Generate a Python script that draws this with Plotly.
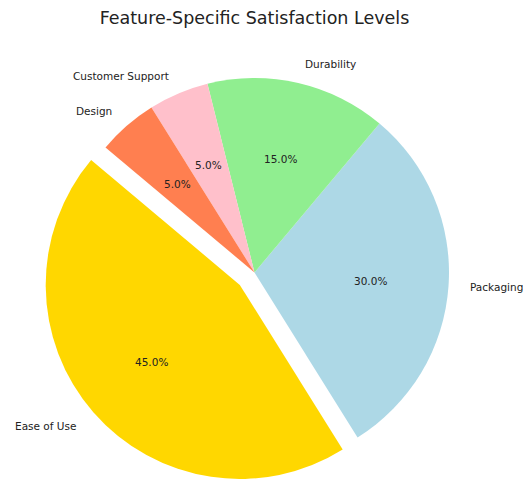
import math
import plotly.graph_objects as go

# Satisfaction share by feature
features = ["Ease of Use", "Packaging", "Durability", "Customer Support", "Design"]
shares = [45, 30, 15, 5, 5]
colors = ["#FFD700", "#ADD8E6", "#90EE90", "#FFC0CB", "#FF7F50"]
explode = [0.1, 0, 0, 0, 0]

W, H = 523, 479
start_angle = 140  # degrees, counter-clockwise from 3 o'clock
cx, cy, r = 254.5, 272.5, 194.5  # pie centre and radius in pixels

total = sum(shares)
# plotly anchors the counter-clockwise end of the first slice at `rotation`
# (measured clockwise from 12 o'clock)
first_end = start_angle + 360 * shares[0] / total
rotation = (90 - first_end) % 360
if rotation > 180:
    rotation -= 360

# mid-angle of every wedge
mids = []
theta = start_angle
for val in shares:
    span = 360 * val / total
    mids.append(math.radians(theta + span / 2))
    theta += span


def domain_for(px, py, rad):
    x0 = max(0.0, (px - rad) / W)
    x1 = min(1.0, (px + rad) / W)
    y0 = max(0.0, 1 - (py + rad) / H)
    y1 = min(1.0, 1 - (py - rad) / H)
    return dict(x=[x0, x1], y=[y0, y1])


fig = go.Figure()
# one pie layer per distinct offset, so exploded wedges sit in their own layer
for ex in sorted(set(explode)):
    idx = [i for i, e in enumerate(explode) if e == ex]
    if ex == 0:
        ox, oy = cx, cy
    else:
        m = mids[idx[0]]
        ox, oy = cx + ex * r * math.cos(m), cy - ex * r * math.sin(m)
    layer_colors = [colors[i] if explode[i] == ex else "rgba(0,0,0,0)"
                    for i in range(len(features))]
    fig.add_trace(go.Pie(
        labels=features,
        values=shares,
        marker=dict(colors=layer_colors, line=dict(width=0)),
        sort=False,
        direction="counterclockwise",
        rotation=rotation,
        textinfo="none",
        hoverinfo="label+percent",
        showlegend=False,
        domain=domain_for(ox, oy, r),
    ))

annotations = []
font_small = dict(family="DejaVu Sans", size=10.5, color="#222222")
for name, val, ex, mid in zip(features, shares, explode, mids):
    c, s = math.cos(mid), math.sin(mid)
    ox, oy = cx + ex * r * c, cy - ex * r * s
    # category label outside the wedge
    lx, ly = ox + 1.1 * r * c, oy - 1.1 * r * s
    annotations.append(dict(
        x=lx / W, y=1 - ly / H, xref="paper", yref="paper",
        text=name, showarrow=False, font=font_small,
        xanchor="left" if c > 0 else "right", yanchor="middle",
    ))
    # percentage inside the wedge
    px, py = ox + 0.6 * r * c, oy - 0.6 * r * s
    annotations.append(dict(
        x=px / W, y=1 - py / H, xref="paper", yref="paper",
        text=f"{100 * val / total:.1f}%", showarrow=False, font=font_small,
        xanchor="center", yanchor="middle",
    ))

fig.update_layout(
    width=W, height=H,
    margin=dict(l=0, r=0, t=0, b=0),
    paper_bgcolor="white",
    plot_bgcolor="white",
    title=dict(
        text="Feature-Specific Satisfaction Levels",
        x=cx / W, xanchor="center",
        y=1 - 18 / H, yanchor="middle", yref="container",
        font=dict(family="DejaVu Sans", size=17.5, color="#222222"),
    ),
    annotations=annotations,
)

fig.write_html("out.html")
